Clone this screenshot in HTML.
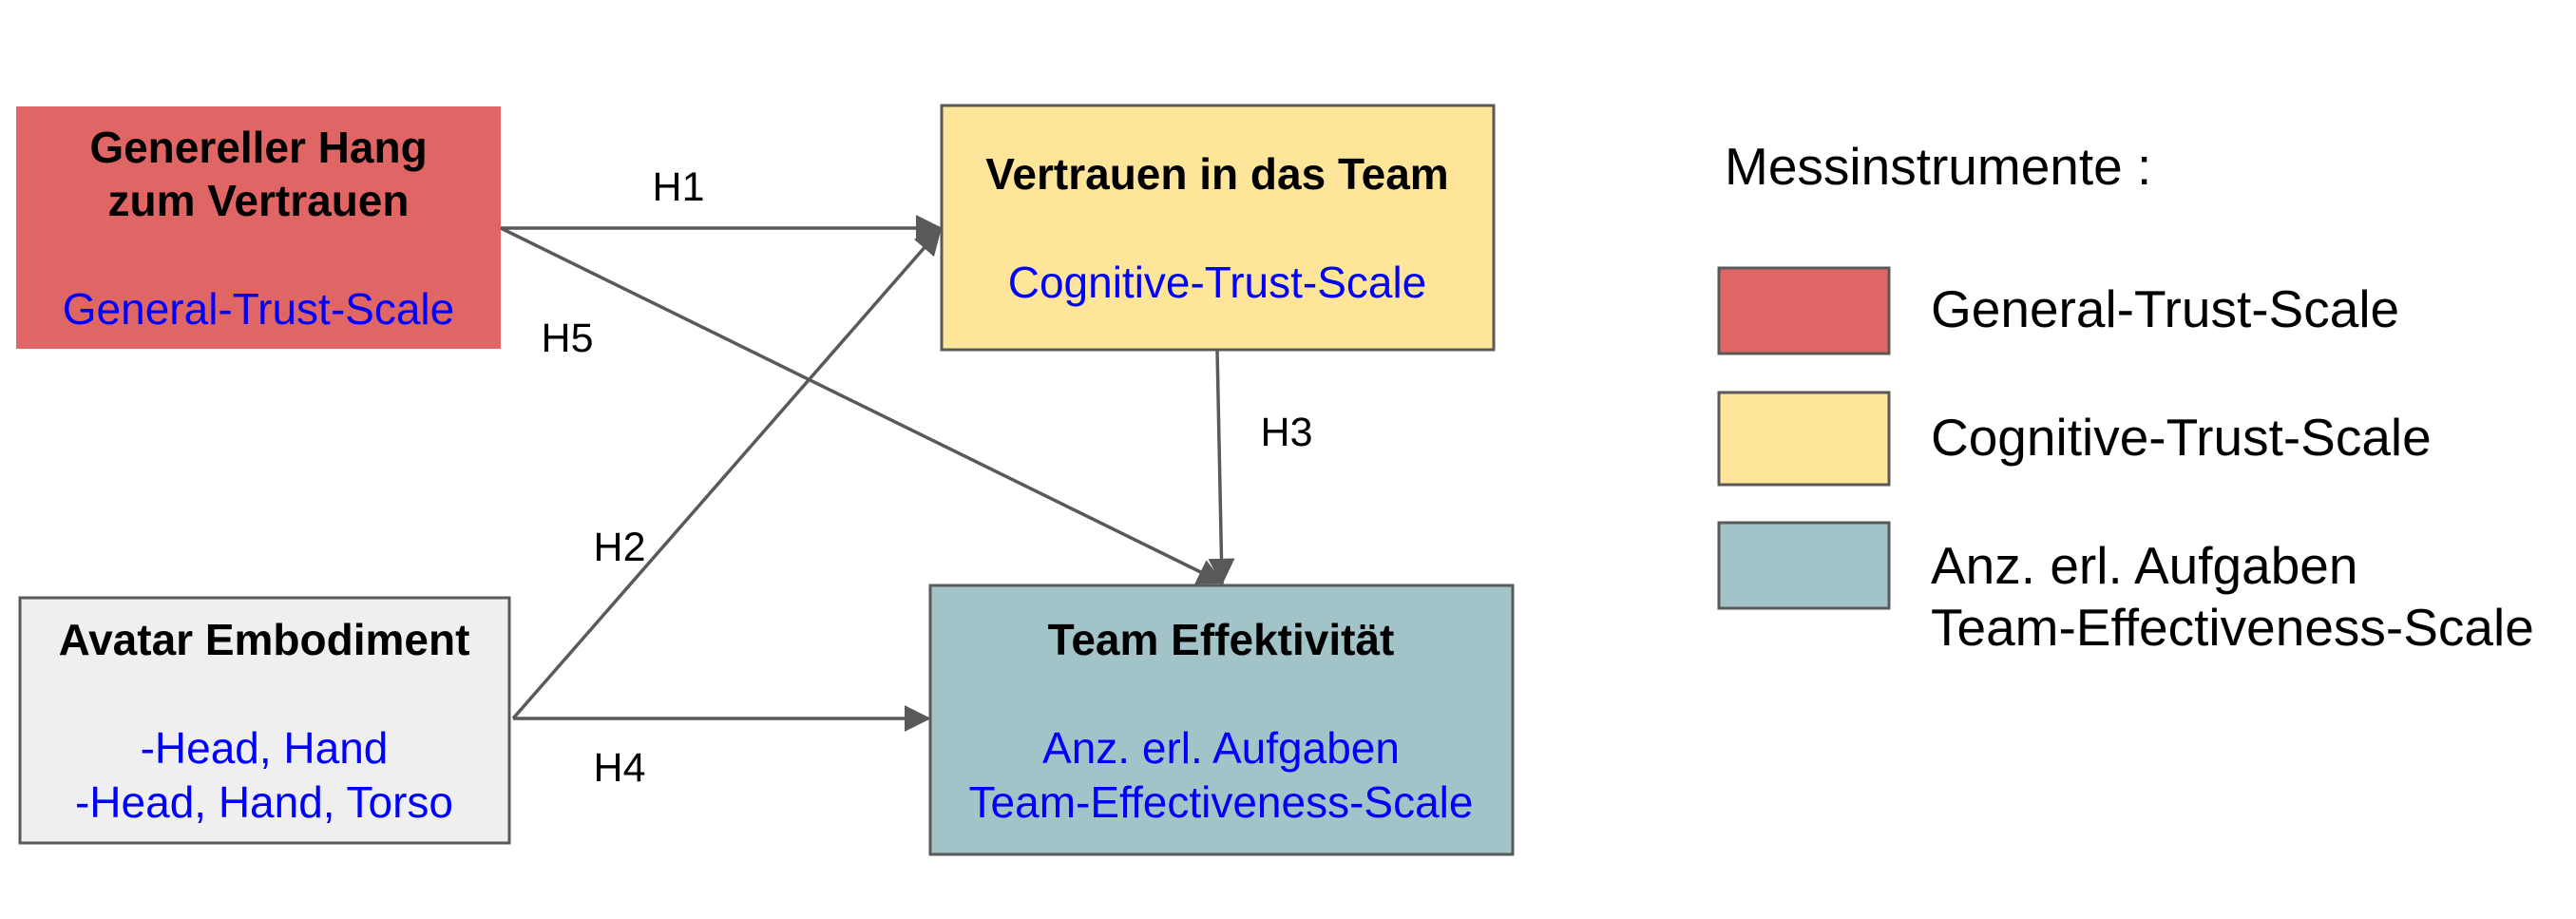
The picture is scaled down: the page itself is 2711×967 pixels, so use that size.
<!DOCTYPE html>
<html><head><meta charset="utf-8"><style>
html,body{margin:0;padding:0;background:#fff;}
body{width:2711px;height:967px;position:relative;overflow:hidden;font-family:"Liberation Sans",Arial,sans-serif;}
svg{position:absolute;left:0;top:0;}
</style></head><body>
<svg width="2711" height="967" viewBox="0 0 2711 967" xmlns="http://www.w3.org/2000/svg" font-family="Liberation Sans, Arial, sans-serif">
<defs>
<marker id="ah" viewBox="0 0 10 10" refX="9" refY="5" markerWidth="28" markerHeight="28" markerUnits="userSpaceOnUse" orient="auto"><path d="M0,0 L10,5 L0,10 z" fill="#595959"/></marker>
</defs>
<rect x="17" y="112" width="510" height="255" fill="#e06666"/>
<rect x="991" y="111" width="581" height="257" fill="#ffe599" stroke="#595959" stroke-width="3"/>
<rect x="21" y="629" width="515" height="258" fill="#efefef" stroke="#595959" stroke-width="3"/>
<rect x="979" y="616" width="613" height="283" fill="#a2c4c9" stroke="#595959" stroke-width="3"/>
<g stroke="#595959" stroke-width="3.5" fill="none" marker-end="url(#ah)">
<line x1="527" y1="240" x2="989" y2="240"/>
<line x1="527" y1="240" x2="1286" y2="613"/>
<line x1="540" y1="756" x2="989" y2="242"/>
<line x1="540" y1="756" x2="977" y2="756"/>
<line x1="1281" y1="368" x2="1286" y2="613"/>
</g>
<g font-size="46" text-anchor="middle">
<text x="272" y="171" font-weight="bold">Genereller Hang</text>
<text x="272" y="227" font-weight="bold">zum Vertrauen</text>
<text x="272" y="341" fill="#0000ff">General-Trust-Scale</text>
<text x="1281" y="199" font-weight="bold">Vertrauen in das Team</text>
<text x="1281" y="313" fill="#0000ff">Cognitive-Trust-Scale</text>
<text x="278" y="689" font-weight="bold">Avatar Embodiment</text>
<text x="278" y="803" fill="#0000ff">-Head, Hand</text>
<text x="278" y="860" fill="#0000ff">-Head, Hand, Torso</text>
<text x="1285" y="689" font-weight="bold">Team Effektivität</text>
<text x="1285" y="803" fill="#0000ff">Anz. erl. Aufgaben</text>
<text x="1285" y="860" fill="#0000ff">Team-Effectiveness-Scale</text>
</g>
<g font-size="43" text-anchor="middle">
<text x="714" y="211">H1</text>
<text x="597" y="370">H5</text>
<text x="1354" y="469">H3</text>
<text x="652" y="590">H2</text>
<text x="652" y="822">H4</text>
</g>
<text x="1815" y="194" font-size="55">Messinstrumente :</text>
<rect x="1809" y="282" width="179" height="90" fill="#e06666" stroke="#595959" stroke-width="3"/>
<rect x="1809" y="413" width="179" height="97" fill="#ffe599" stroke="#595959" stroke-width="3"/>
<rect x="1809" y="550" width="179" height="90" fill="#a2c4c9" stroke="#595959" stroke-width="3"/>
<g font-size="55">
<text x="2032" y="344">General-Trust-Scale</text>
<text x="2032" y="479">Cognitive-Trust-Scale</text>
<text x="2032" y="614">Anz. erl. Aufgaben</text>
<text x="2032" y="679">Team-Effectiveness-Scale</text>
</g>
</svg>
</body></html>
